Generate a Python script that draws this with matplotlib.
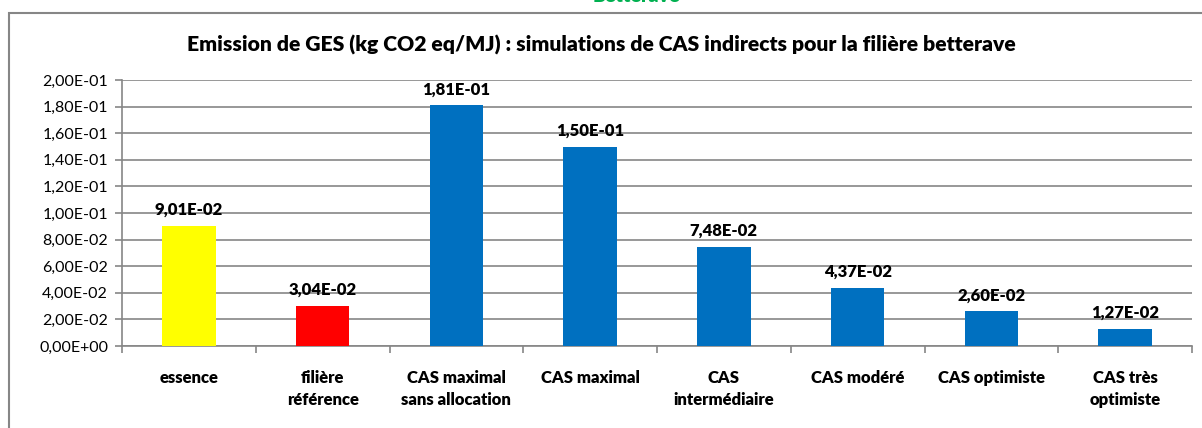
import matplotlib
matplotlib.use('Agg')
import numpy as np
from matplotlib import pyplot as plt
from matplotlib.patches import Rectangle
from matplotlib.ticker import FuncFormatter, MultipleLocator

categories = ['essence', 'filière\nréférence', 'CAS maximal\nsans allocation', 'CAS maximal',
              'CAS\nintermédiaire', 'CAS modéré', 'CAS optimiste', 'CAS très\noptimiste']
values = [0.0901, 0.0304, 0.181, 0.150, 0.0748, 0.0437, 0.0260, 0.0127]
value_labels = ['9,01E-02', '3,04E-02', '1,81E-01', '1,50E-01',
                '7,48E-02', '4,37E-02', '2,60E-02', '1,27E-02']
colors = ['#FFFF00', '#FF0000', '#0070C0', '#0070C0', '#0070C0', '#0070C0', '#0070C0', '#0070C0']

plt.rcParams['font.family'] = ['Lato', 'DejaVu Sans']

fig = plt.figure(figsize=(12.02, 4.28), dpi=100)
ax = fig.add_axes([122/1202, 1-346/428, (1192-122)/1202, (346-80)/428])

x = np.arange(len(categories))
ax.bar(x, values, width=0.4, color=colors, zorder=3)
for xi, v, lab in zip(x, values, value_labels):
    ax.text(xi, v + 0.006, lab, ha='center', va='bottom', fontsize=12, fontweight='heavy')

ax.set_xlim(-0.5, len(categories) - 0.5)
ax.set_ylim(0, 0.2)
ax.yaxis.set_major_locator(MultipleLocator(0.02))

def sci_fr(v, pos):
    s = '%.2E' % v
    mant, exp = s.split('E')
    return mant.replace('.', ',') + 'E' + exp[0] + exp[1:].zfill(2)

ax.yaxis.set_major_formatter(FuncFormatter(sci_fr))
ax.grid(axis='y', color='#868686', linewidth=1.2, zorder=0)

ax.set_xticks(np.arange(len(categories) + 1) - 0.5)
ax.set_xticklabels([])
ax.tick_params(axis='x', length=5, color='#868686', width=1.2)
ax.tick_params(axis='y', length=5, color='#868686', width=1.2, labelsize=11.5, pad=5)
for xi, cat in zip(x, categories):
    ax.text(xi, -0.018, cat, ha='center', va='top', fontsize=12, fontweight='heavy',
            linespacing=1.45)

for side in ['top', 'right']:
    ax.spines[side].set_visible(False)
ax.spines['left'].set_color('#868686')
ax.spines['bottom'].set_color('#868686')
ax.spines['left'].set_linewidth(1.2)
ax.spines['bottom'].set_linewidth(1.2)

fig.text(0.5, 1 - 45/428, 'Emission de GES (kg CO2 eq/MJ) : simulations de CAS indirects pour la filière betterave',
         ha='center', va='center', fontsize=15.2, fontweight='heavy')
fig.text(636/1202, 1 + 3/428, 'Betterave', ha='center', va='center', fontsize=14,
         fontweight='heavy', color='#00B050')

fig.patches.append(Rectangle((9/1202, -0.1), 1.2, 1 - 13/428 + 0.1, transform=fig.transFigure,
                             fill=False, edgecolor='#868686', linewidth=1.5))

plt.savefig('out.png', dpi=100)
